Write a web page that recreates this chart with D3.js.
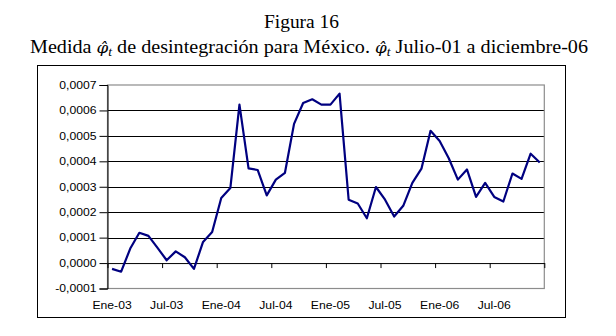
<!DOCTYPE html>
<html><head><meta charset="utf-8">
<script src="https://cdn.jsdelivr.net/npm/d3@7"></script>
<style>
html,body{margin:0;padding:0;background:#fff;}
svg{display:block;}
</style></head>
<body>
<svg id="chart" width="616" height="336"></svg>
<script>
// ---- data ----
const months = ["Ene","Feb","Mar","Abr","May","Jun","Jul","Ago","Sep","Oct","Nov","Dic"];
const years = ["03","04","05","06"];
const categories = years.flatMap(y => months.map(m => m + "-" + y));
const values = [
  -0.000023, -0.000034, 0.000057, 0.000119, 0.000107, 0.000060, 0.000011, 0.000046, 0.000023, -0.000023, 0.000083, 0.000122,
   0.000256, 0.000295, 0.000623, 0.000372, 0.000366, 0.000266, 0.000328, 0.000355, 0.000547, 0.000629, 0.000644, 0.000623,
   0.000623, 0.000666, 0.000249, 0.000234, 0.000176, 0.000299, 0.000249, 0.000183, 0.000225, 0.000315, 0.000371, 0.000520,
   0.000480, 0.000412, 0.000328, 0.000368, 0.000260, 0.000315, 0.000260, 0.000242, 0.000352, 0.000331, 0.000430, 0.000395
];
const xTickLabels = ["Ene-03","Jul-03","Ene-04","Jul-04","Ene-05","Jul-05","Ene-06","Jul-06"];
const yTicks = [-0.0001, 0, 0.0001, 0.0002, 0.0003, 0.0004, 0.0005, 0.0006, 0.0007];
const titleLine1 = "Figura 16";

// ---- layout ----
const svg = d3.select("#chart");
const L = 107.5, R = 544.3, T = 85, B = 288.5;
const SX = 1.16;

// outer frame
svg.append("rect").attr("x", 37.5).attr("y", 65.5).attr("width", 528).attr("height", 252)
  .attr("fill", "none").attr("stroke", "#000").attr("stroke-width", 1);

// titles
svg.append("text").attr("x", 301.5).attr("y", 28).attr("text-anchor", "middle")
  .attr("font-family", "Liberation Serif, Times New Roman, serif").attr("font-size", 18)
  .attr("textLength", 75).attr("lengthAdjust", "spacingAndGlyphs")
  .text(titleLine1);

const t2 = svg.append("text").attr("x", 30).attr("y", 53)
  .attr("font-family", "Liberation Serif, Times New Roman, serif").attr("font-size", 18)
  .attr("textLength", 558).attr("lengthAdjust", "spacingAndGlyphs");
function phi(sel){
  sel.append("tspan").attr("font-family", "DejaVu Serif, serif").attr("font-style", "italic")
    .attr("font-size", 15).text("\u03C6\u0302");
  sel.append("tspan").attr("font-style", "italic").attr("font-size", 12).attr("dy", 3).text("t");
}
t2.append("tspan").text("Medida ");
phi(t2);
t2.append("tspan").attr("dy", -3).text(" de desintegración para México. ");
phi(t2);
t2.append("tspan").attr("dy", -3).text(" Julio-01 a diciembre-06");

// scales
const y = d3.scaleLinear().domain([-0.0001, 0.0007]).range([B, T]);
const xb = d3.scaleBand().domain(categories).range([L, R]).padding(0);
const xi = d3.scaleLinear().domain([0, categories.length]).range([L, R]);
const fmt = v => d3.format(".4f")(v).replace(".", ",").replace("−", "-");

// gridlines
svg.append("g").selectAll("line").data(yTicks.filter(v => v > 0 && v < 0.0007)).join("line")
  .attr("x1", L).attr("x2", R).attr("y1", d => Math.round(y(d)) + 0.5).attr("y2", d => Math.round(y(d)) + 0.5)
  .attr("stroke", "#000").attr("stroke-width", 1);

// plot border (grey)
svg.append("rect").attr("x", L).attr("y", T).attr("width", R - L).attr("height", B - T)
  .attr("fill", "none").attr("stroke", "#8c8c8c").attr("stroke-width", 1.2);

// y axis
const yAxis = svg.append("g").attr("transform", `translate(${L},0)`)
  .call(d3.axisLeft(y).tickValues(yTicks).tickFormat(fmt).tickSize(8).tickPadding(2));
yAxis.select(".domain").attr("stroke", "#000");
yAxis.selectAll(".tick line").attr("stroke", "#000");
yAxis.selectAll(".tick text")
  .attr("font-family", "Liberation Sans, Arial, sans-serif").attr("font-size", 10.5)
  .attr("fill", "#000")
  .attr("x", -11 / SX).attr("transform", `scale(${SX},1)`);

// x axis at zero line with ticks every 6 categories
const xAxis = svg.append("g").attr("transform", `translate(0,${y(0)})`)
  .call(d3.axisBottom(xi).tickValues(d3.range(0, categories.length + 1, 6)).tickFormat("").tickSize(5).tickSizeOuter(0));
xAxis.select(".domain").attr("stroke", "#000");
xAxis.selectAll(".tick line").attr("stroke", "#000");

// x labels at bottom
const xl = svg.append("g").attr("transform", `translate(0,${B})`)
  .call(d3.axisBottom(xb).tickValues(xTickLabels).tickSize(0).tickPadding(0));
xl.select(".domain").remove();
xl.selectAll(".tick text")
  .attr("font-family", "Liberation Sans, Arial, sans-serif").attr("font-size", 10.5)
  .attr("fill", "#000").attr("dy", 0).attr("y", 20.5)
  .attr("x", 0).attr("transform", `scale(${SX},1)`);
xl.selectAll(".tick").each(function(d){
  const cx = xb(d) + xb.bandwidth() / 2;
  d3.select(this).attr("transform", `translate(${cx},0)`);
});

// line
const line = d3.line().x((d, i) => xb(categories[i]) + xb.bandwidth() / 2).y(d => y(d));
svg.append("path").datum(values).attr("d", line)
  .attr("fill", "none").attr("stroke", "#000080").attr("stroke-width", 2.2).attr("stroke-linejoin", "round");
</script>
</body></html>
